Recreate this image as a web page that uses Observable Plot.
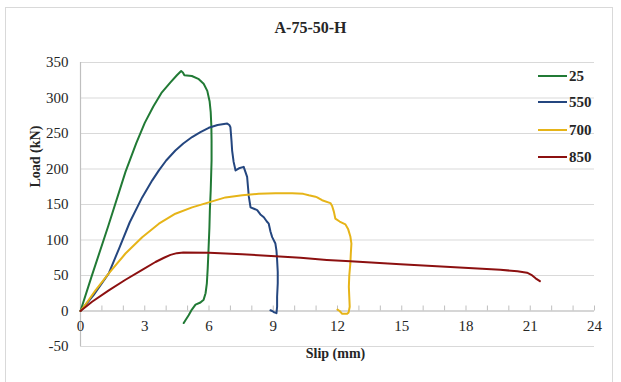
<!DOCTYPE html>
<html><head><meta charset="utf-8">
<script src="https://cdn.jsdelivr.net/npm/d3@7"></script>
<script src="https://cdn.jsdelivr.net/npm/@observablehq/plot@0.6"></script>
<style>
body{margin:0;background:#fff;}
#wrap{position:relative;width:621px;height:382px;overflow:hidden;font-family:"Liberation Serif",serif;color:#262626;}
#frame{position:absolute;left:5px;top:7px;width:608px;height:380px;border:1px solid #d9d9d9;box-sizing:border-box;}
#title{position:absolute;left:0;width:621px;top:18px;text-align:center;font-weight:bold;font-size:16px;line-height:20px;}
#chart{position:absolute;left:0;top:0;}
#chart svg, #chart svg text{font-family:"Liberation Serif", serif !important;}
.leg{position:absolute;left:538px;height:18px;display:flex;align-items:center;font-weight:bold;font-size:15px;}
.leg .sw{display:inline-block;width:29px;height:2px;margin-right:2px;}
</style></head>
<body>
<div id="wrap">
  <div id="frame"></div>
  <div id="chart"></div>
  <div id="title">A-75-50-H</div>
  <div id="legend"></div>
</div>
<script>
const seriesNames = ["25", "550", "700", "850"];
const seriesColors = ["#217a35", "#24467f", "#e6b418", "#8c1010"];
const xTicks = [0, 3, 6, 9, 12, 15, 18, 21, 24];
const xMinorTicks = d3.range(0, 25, 1);
const yTicks = [-50, 0, 50, 100, 150, 200, 250, 300, 350];

const slip25 = [0, 0.5, 1.3, 2.1, 2.6, 3.0, 3.4, 3.8, 4.2, 4.5, 4.7, 4.78, 4.85, 5.2, 5.5, 5.75, 5.92, 6.03, 6.08, 6.11, 6.12, 6.12, 6.08, 6.04, 6.02, 5.97, 5.94, 5.9, 5.84, 5.75, 5.6, 5.37, 5.2, 5.05, 4.9, 4.82];
const load25 = [0, 47, 120, 196, 236, 265, 288, 308, 322, 332, 338, 336, 332, 331, 327, 320, 310, 295, 280, 260, 240, 212, 170, 142, 118, 81, 60, 39, 25, 16, 12, 9, 2, -6, -13, -17];

const slip550 = [0, 0.6, 1.32, 1.8, 2.3, 2.88, 3.35, 3.66, 4.0, 4.43, 4.8, 5.21, 5.6, 5.99, 6.4, 6.85, 6.95, 7.0, 7.05, 7.08, 7.15, 7.24, 7.4, 7.62, 7.7, 7.78, 7.82, 7.86, 7.94, 8.1, 8.25, 8.4, 8.56, 8.7, 8.79, 8.87, 8.95, 9.1, 9.15, 9.18, 9.21, 9.21, 9.18, 9.18, 9.15, 9.05, 8.95, 8.87];
const load550 = [0, 22, 53, 88, 125, 160, 184, 198, 212, 226, 236, 245, 252, 258, 262, 264, 262, 259, 240, 226, 210, 198, 201, 203, 196, 189, 175, 161, 146, 144, 142, 136, 132, 126, 123, 112, 104, 95, 85, 72, 55, 39, 20, 6, -3, -2, 0, 1];

const slip700 = [0, 0.3, 0.7, 1.32, 2.1, 2.88, 3.66, 4.43, 5.21, 5.99, 6.77, 7.55, 8.32, 9.1, 9.88, 10.4, 10.66, 10.97, 11.05, 11.28, 11.67, 11.75, 11.83, 11.9, 12.1, 12.37, 12.5, 12.6, 12.65, 12.62, 12.6, 12.55, 12.53, 12.55, 12.57, 12.52, 12.45, 12.22, 12.1, 12.0];
const load700 = [0, 12, 29, 53, 81, 104, 123, 137, 146, 153, 160, 163, 165, 166, 166, 165, 163, 161, 160, 156, 152, 148, 140, 130, 126, 122, 115, 105, 95, 80, 67, 50, 34, 20, 6, -2, -4, -4, 0, 2];

const slip850 = [0, 0.54, 1.32, 2.1, 2.88, 3.5, 3.9, 4.2, 4.5, 4.8, 6.0, 7.55, 9.1, 10.27, 11.5, 12.6, 14.94, 17.27, 19.6, 20.4, 20.85, 21.05, 21.25, 21.45];
const load850 = [0, 13, 29, 44, 58, 69, 75, 79, 81.5, 82.5, 82, 80, 77, 75, 72, 70, 66, 62, 58, 56, 54, 51, 46, 42];

const seriesSlip = [slip25, slip550, slip700, slip850];
const seriesLoad = [load25, load550, load700, load850];

const data = [];
seriesNames.forEach((name, i) => {
  seriesSlip[i].forEach((s, j) => data.push({series: name, slip: s, load: seriesLoad[i][j]}));
});

const plot = Plot.plot({
  width: 621,
  height: 382,
  marginTop: 62,
  marginBottom: 36,
  marginLeft: 80,
  marginRight: 27,
  style: {fontFamily: "'Liberation Serif', serif", fontSize: "15px", background: "transparent", color: "#262626"},
  x: {domain: [0, 24], axis: null},
  y: {domain: [-50, 350], axis: null},
  color: {domain: seriesNames, range: seriesColors},
  marks: [
    Plot.ruleY(yTicks, {stroke: "#d9d9d9", strokeWidth: 1.2}),
    Plot.ruleX([0], {stroke: "#bfbfbf", strokeWidth: 1.2}),
    Plot.ruleY([0], {stroke: "#bfbfbf", strokeWidth: 1.2}),
    Plot.ruleX(xMinorTicks, {x: d => d, y1: 0, y2: 0, insetTop: -5, stroke: "#bfbfbf"}),
    Plot.text(xTicks, {x: d => d, y: 0, dy: 15, text: d => String(d), fill: "#262626"}),
    Plot.axisY({ticks: yTicks, tickSize: 0, tickPadding: 12, label: null, fontSize: 15, fill: "#262626", tickFormat: d => String(d)}),
    Plot.line(data, {x: "slip", y: "load", z: "series", stroke: "series", strokeWidth: 2, curve: "linear"}),
    Plot.text(["Load (kN)"], {frameAnchor: "left", rotate: -90, dx: -45, dy: -17, fontWeight: "bold", fontSize: 14, fill: "#262626"}),
    Plot.text(["Slip (mm)"], {frameAnchor: "bottom", dy: 11, dx: -2, fontWeight: "bold", fontSize: 14, fill: "#262626"})
  ]
});
document.getElementById("chart").appendChild(plot);

const legendY = [76, 102, 130, 157];
const legend = document.getElementById("legend");
seriesNames.forEach((name, i) => {
  const row = document.createElement("div");
  row.className = "leg";
  row.style.top = (legendY[i] - 9) + "px";
  const sw = document.createElement("span");
  sw.className = "sw";
  sw.style.background = seriesColors[i];
  row.appendChild(sw);
  row.appendChild(document.createTextNode(name));
  legend.appendChild(row);
});
</script>
</body></html>
